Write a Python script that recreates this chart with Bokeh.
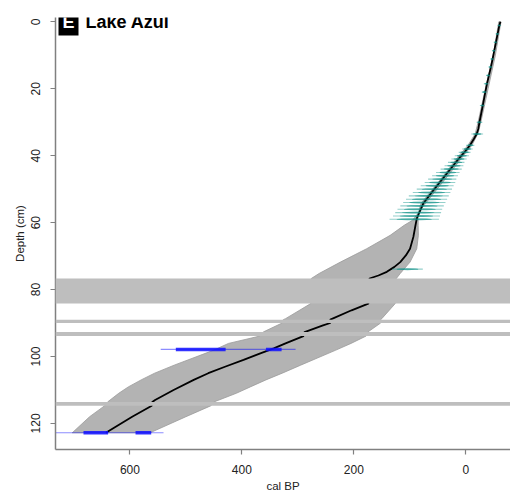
from bokeh.plotting import figure
from bokeh.models import Range1d, Label, FixedTicker, BoxAnnotation, ColumnDataSource
from bokeh.embed import file_html
from bokeh.resources import INLINE

# ---- data ----
# age-depth model (mean)
model_depth = [0, 1.1, 3.6, 6.1, 8.6, 11.1, 13.5, 16, 18.5, 21, 25, 30, 32, 33.5, 35, 36.9, 38.9,
               40.4, 45.4, 50.4, 54.3, 58.8, 61, 64.3, 67.8, 69.8, 71.8, 73.3, 74.7, 75.8,
               76.7, 84.2, 86.2, 88.7, 89.0, 90.0, 90.7, 92.7, 93.9, 96.1, 97.6, 99.1,
               101, 103, 105, 107, 110, 113, 113.6, 114.7, 118, 122.8]
model_age = [-62, -60, -57, -54, -51, -48, -45, -41.5, -38, -35, -30.5, -24.5, -22.5, -19.5, -14.5, -7.5, 2,
             10, 34, 58, 76, 87.5, 90, 93.6, 99.5, 107, 117, 128, 141, 156,
             172, 174, 204, 238, 242, 242, 255, 288, 290, 322, 343, 367,
             397, 429, 460, 486, 522, 555, 560, 561, 596, 643]

# 95% envelope
env_depth = [0, 10, 20, 30, 33.4, 36.9, 40.4, 45.4, 54.3, 57.8, 59.3, 60.8, 63.8, 67.8, 71.8,
             75.2, 76.7, 84.2, 88.7, 89.0, 90.0, 92.7, 93.9, 96.1, 98.1, 102.6, 105.0,
             107.0, 109.1, 111.0, 113.6, 114.7, 118.0, 122.8]
env_old = [-63, -53, -40, -27, -22, -11, 6, 29, 72, 88, 95, 110, 135, 177, 224,
           262, 276, 277, 322, 326, 328, 362, 368, 424, 450, 521, 556,
           580, 603, 620, 640, 645, 672, 703]
env_young = [-59, -49, -35, -22, -17, -4, 14, 37, 80, 86, 85, 85, 84.6, 87.5, 99.5,
             117, 124, 126, 150, 152, 152, 175, 178, 205, 232, 295, 328,
             357, 385, 410, 450, 455, 500, 564]

# slumps
slump_top = [76.7, 89.0, 92.7, 113.6]
slump_bottom = [84.2, 90.0, 93.9, 114.7]

# 210Pb dates (teal)
pb_depth = [1.1, 3.6, 6.1, 8.6, 11.1, 13.5, 16, 18.5, 21, 25, 30, 33.5, 36.9, 38, 39, 40, 41,
            42, 43, 44, 45, 46, 47, 48, 49, 50, 51, 52, 53, 54, 55, 56, 57, 58, 59, 73.9]
pb_age = [-60, -56.5, -53, -50, -47, -44, -40, -36.5, -33, -29.5, -24.5, -20.5, -8, -3, 2, 7, 12,
          17, 21, 26, 32, 37, 42, 46, 51, 56, 61, 66, 70, 74, 78, 82, 85, 88, 92, 104]
pb_err = [3, 3, 3, 3, 3, 3.5, 3.5, 4, 4, 4, 5, 10, 7, 9, 10, 12, 13,
          14, 16, 18, 20, 22, 24, 26, 28, 30, 32, 34, 35, 36, 37, 38, 39, 40, 42, 26]

# 14C dates (blue): full range and modes
c14_depth = [97.9, 122.8]
c14_lo = [304, 540]
c14_hi = [545, 735]
mode_depth = [97.9, 97.9, 122.8, 122.8]
mode_lo = [429, 329, 639, 562]
mode_hi = [518, 357, 683, 590]

x_ticks = [600, 400, 200, 0]
y_ticks = [0, 20, 40, 60, 80, 100, 120]

# ---- figure ----
p = figure(width=510, height=497, output_backend="svg", toolbar_location=None,
           x_range=Range1d(733, -80), y_range=Range1d(127.8, -1.3),
           min_border_left=55, min_border_right=0, min_border_top=17, min_border_bottom=48,
           background_fill_color="white", border_fill_color="white")
p.outline_line_color = None
p.xgrid.visible = False
p.ygrid.visible = False

# envelope
p.patch(x=env_old + env_young[::-1], y=env_depth + env_depth[::-1],
        fill_color="#B3B3B3", line_color="#9A9A9A", line_width=0.8)

# mean line
p.line(x=model_age, y=model_depth, line_color="black", line_width=1.8)

# 210Pb dates
pb_src = ColumnDataSource(dict(
    d=pb_depth, a=pb_age, w=[1.5 * e for e in pb_err],
    lo=[a - e * 1.05 for a, e in zip(pb_age, pb_err)],
    hi=[a + e * 1.05 for a, e in zip(pb_age, pb_err)]))
p.segment(x0="lo", x1="hi", y0="d", y1="d", source=pb_src,
          line_color="#2AA198", line_alpha=0.5, line_width=1.1)
p.ellipse(x="a", y="d", width="w", height=0.6, source=pb_src,
          fill_color="#008B80", fill_alpha=0.6, line_color=None)

# 14C dates
p.segment(x0=c14_lo, x1=c14_hi, y0=c14_depth, y1=c14_depth,
          line_color="#0000FF", line_alpha=0.45, line_width=1.2)
p.segment(x0=mode_lo, x1=mode_hi, y0=mode_depth, y1=mode_depth,
          line_color="#1010FF", line_alpha=0.85, line_width=3.5)

# slumps
for t, b in zip(slump_top, slump_bottom):
    p.add_layout(BoxAnnotation(top=t, bottom=b, fill_color="#BEBEBE", fill_alpha=1.0,
                               line_color=None))

# axes
for ax in (p.xaxis[0], p.yaxis[0]):
    ax.axis_line_color = "#808080"
    ax.axis_line_width = 1.5
    ax.major_tick_line_color = "#808080"
    ax.major_tick_line_width = 1.2
    ax.major_tick_out = 5
    ax.major_tick_in = 0
    ax.minor_tick_line_color = None
    ax.major_label_text_font = "Liberation Sans"
    ax.major_label_text_font_size = "12px"
    ax.major_label_text_color = "#222222"
    ax.axis_label_text_font = "Liberation Sans"
    ax.axis_label_text_font_size = "11.5px"
    ax.axis_label_text_font_style = "normal"
    ax.axis_label_text_color = "#222222"

p.xaxis.ticker = FixedTicker(ticks=x_ticks)
p.yaxis.ticker = FixedTicker(ticks=y_ticks)
p.xaxis.axis_label = "cal BP"
p.yaxis.axis_label = "Depth (cm)"
p.yaxis.major_label_orientation = "vertical"
p.xaxis.major_label_standoff = 10
p.yaxis.major_label_standoff = 10
p.xaxis.axis_label_standoff = 3
p.yaxis.axis_label_standoff = 3

# title
p.add_layout(Label(x=3, y=428, x_units="screen", y_units="screen", text="E",
                   text_color="white", text_font="Liberation Sans", text_font_style="bold",
                   text_font_size="18px", text_baseline="middle",
                   background_fill_color="black", padding=4))
p.add_layout(Label(x=30, y=428, x_units="screen", y_units="screen", text="Lake Azul",
                   text_color="black", text_font="Liberation Sans", text_font_style="bold",
                   text_font_size="18px", text_baseline="middle"))

open("out.html", "w").write(file_html(p, INLINE))
